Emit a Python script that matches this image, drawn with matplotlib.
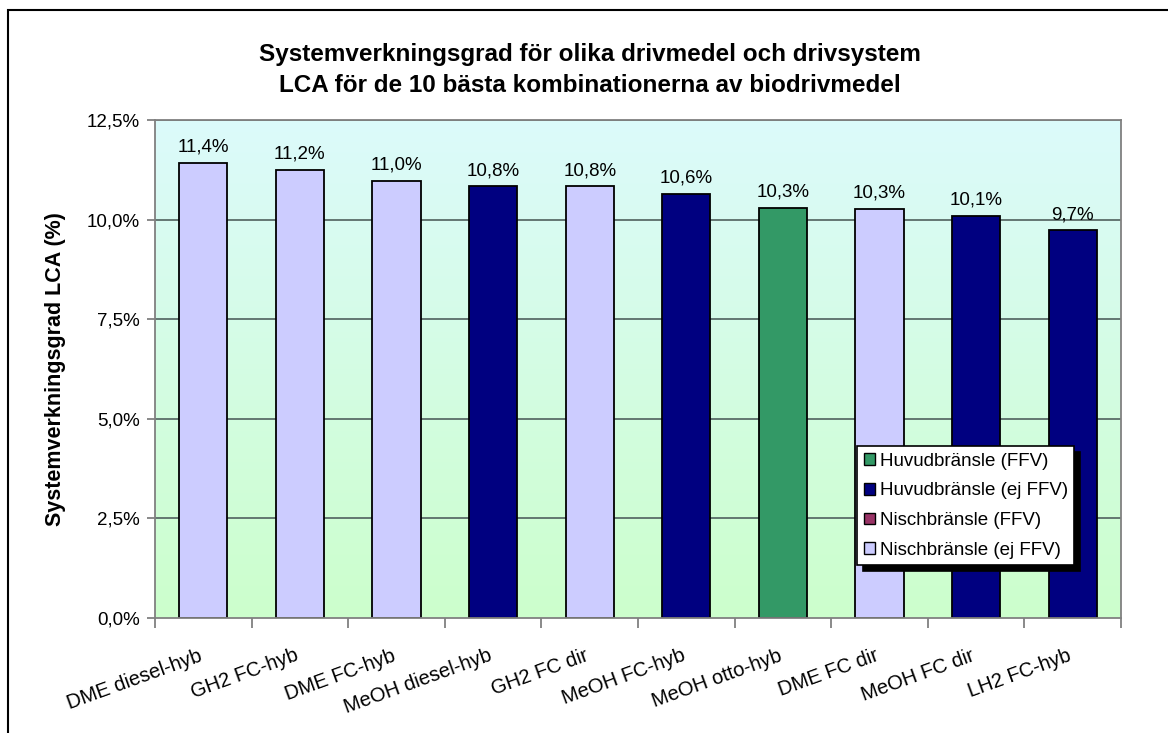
import numpy as np
import matplotlib
matplotlib.use('Agg')
import matplotlib.pyplot as plt
from matplotlib.patches import Patch, Rectangle
from matplotlib.colors import LinearSegmentedColormap
import matplotlib.transforms as mtransforms

plt.rcParams['font.family'] = ['Liberation Sans', 'DejaVu Sans']

categories = ['DME diesel-hyb', 'GH2 FC-hyb', 'DME FC-hyb', 'MeOH diesel-hyb', 'GH2 FC dir',
              'MeOH FC-hyb', 'MeOH otto-hyb', 'DME FC dir', 'MeOH FC dir', 'LH2 FC-hyb']
values = [11.43, 11.25, 10.98, 10.84, 10.84, 10.65, 10.30, 10.27, 10.10, 9.73]
labels = ['11,4%', '11,2%', '11,0%', '10,8%', '10,8%', '10,6%', '10,3%', '10,3%', '10,1%', '9,7%']
groups = ['nisch_ej', 'nisch_ej', 'nisch_ej', 'huvud_ej', 'nisch_ej',
          'huvud_ej', 'huvud_ffv', 'nisch_ej', 'huvud_ej', 'huvud_ej']

colors = {'huvud_ffv': '#339966', 'huvud_ej': '#000080',
          'nisch_ffv': '#993366', 'nisch_ej': '#CCCCFF'}
legend_names = [('huvud_ffv', 'Huvudbränsle (FFV)'), ('huvud_ej', 'Huvudbränsle (ej FFV)'),
                ('nisch_ffv', 'Nischbränsle (FFV)'), ('nisch_ej', 'Nischbränsle (ej FFV)')]

W, H = 1168, 733
fig = plt.figure(figsize=(W / 100, H / 100), dpi=100)
ax = fig.add_axes([155 / W, 1 - 618 / H, 966 / W, 498 / H])

x = np.arange(len(categories))

# gradient background, green at bottom to pale cyan at top
cmap = LinearSegmentedColormap.from_list('bg', ['#CCFFCC', '#DCFAFB'])
grad = np.linspace(0, 1, 256).reshape(-1, 1)
ax.imshow(grad, cmap=cmap, origin='lower', aspect='auto',
          extent=[-0.5, len(x) - 0.5, 0, 12.5], zorder=0)

for yv in np.arange(2.5, 12.6, 2.5):
    ax.axhline(yv, color='#5a6c68', lw=1.3, zorder=1)

ax.bar(x, values, width=0.5, color=[colors[g] for g in groups],
       edgecolor='black', linewidth=1.3, zorder=2)

for xi, v, lab in zip(x, values, labels):
    ax.annotate(lab, (xi, v), xytext=(0, 5), textcoords='offset points',
                ha='center', va='bottom', fontsize=13.5)

ax.set_xlim(-0.5, len(x) - 0.5)
ax.set_ylim(0, 12.5)
ax.set_yticks(np.arange(0, 12.6, 2.5))
ax.set_yticklabels([f'{t:.1f}%'.replace('.', ',') for t in np.arange(0, 12.6, 2.5)], fontsize=13.5)
ax.set_xticks(np.arange(-0.5, len(x), 1.0))
ax.set_xticklabels([])
ax.tick_params(axis='x', length=7, color='#808080', width=1.3)
ax.tick_params(axis='y', length=6, color='#808080', width=1.3, pad=5)
for s in ax.spines.values():
    s.set_color('#808080')
    s.set_linewidth(1.3)

# rotated category labels
off = mtransforms.ScaledTranslation(-2 / 100, -37 / 100, fig.dpi_scale_trans)
trans = mtransforms.blended_transform_factory(ax.transData, ax.transAxes) + off
for xi, c in zip(x, categories):
    ax.text(xi, 0, c, transform=trans, rotation=20, rotation_mode='anchor',
            ha='right', va='center', fontsize=14.5)

ax.set_ylabel('Systemverkningsgrad LCA (%)', fontsize=15.5, fontweight='bold')
ax.yaxis.set_label_coords(-0.092, 0.5)

fig.text(590 / W, 1 - 55 / H, 'Systemverkningsgrad för olika drivmedel och drivsystem',
         ha='center', va='center', fontsize=17.5, fontweight='bold')
fig.text(590 / W, 1 - 86 / H, 'LCA för de 10 bästa kombinationerna av biodrivmedel',
         ha='center', va='center', fontsize=17.5, fontweight='bold')

handles = [Patch(facecolor=colors[k], edgecolor='black', label=n) for k, n in legend_names]
leg = fig.legend(handles=handles, loc='upper left', bbox_to_anchor=(857 / W, 1 - 446 / H),
                 fontsize=13.5, frameon=True, fancybox=False, handlelength=0.6,
                 handleheight=0.6, handletextpad=0.25, labelspacing=0.68,
                 borderpad=0.35, borderaxespad=0,
                 shadow={'color': 'black', 'alpha': 1, 'ox': 4, 'oy': -4})
leg.get_frame().set_edgecolor('black')
leg.get_frame().set_linewidth(1.2)

fig.add_artist(Rectangle((8 / W, -0.1), 2, 1 - 10 / H + 0.1, transform=fig.transFigure,
                         fill=False, edgecolor='black', lw=1.5))

fig.savefig('out.png', dpi=100)
